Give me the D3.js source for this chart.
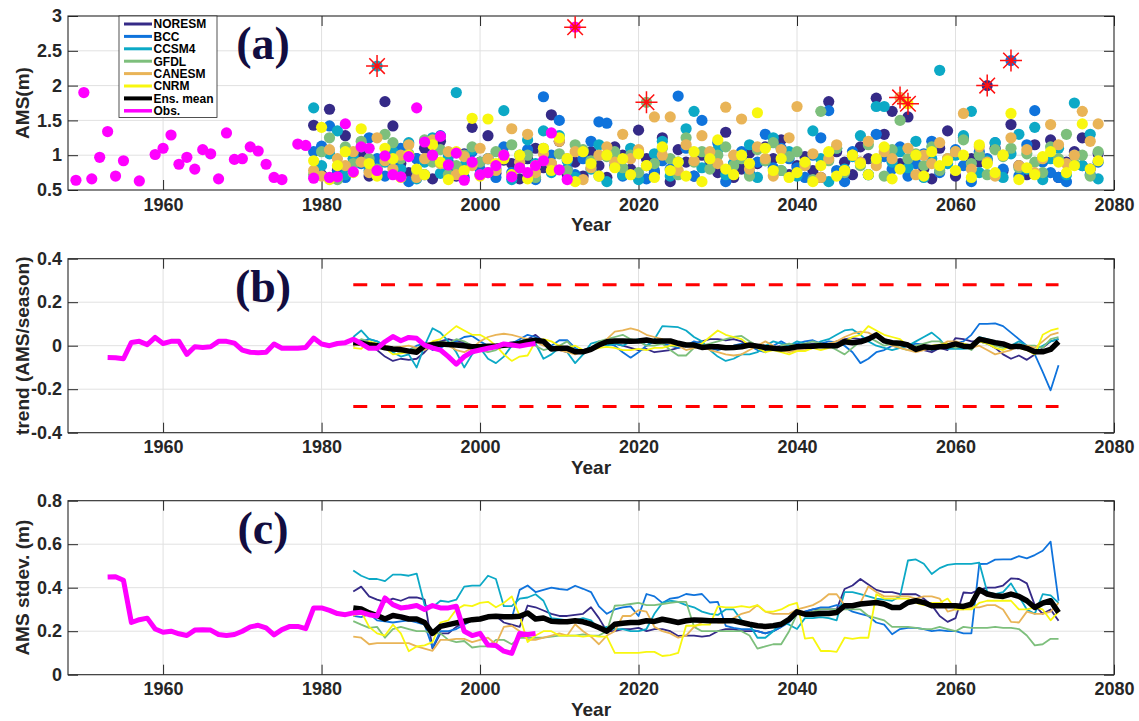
<!DOCTYPE html>
<html>
<head>
<meta charset="utf-8">
<script src="https://cdn.jsdelivr.net/npm/d3@7"></script>
<style>
  body { margin: 0; background: #fff; }
  svg { display: block; }
</style>
</head>
<body>
<script>
// Data

const yearTicks = [1960, 1980, 2000, 2020, 2040, 2060, 2080]
const amsTicks = [0.5, 1, 1.5, 2, 2.5, 3]
const trendTicks = [-0.4, -0.2, 0, 0.2, 0.4]
const stdTicks = [0, 0.2, 0.4, 0.6, 0.8]

const modelYears = d3.range(1979, 2079)   // annual maxima, 1979-2078
const windowYears = d3.range(1984, 2074)  // 11-yr window centres
const obsWindowYears = d3.range(1953, 2008)
const thresholdYears = [1984, 2073]
const thresholdLevel = 0.28

const obsYears = [
  1949, 1950, 1951, 1952, 1953, 1954, 1955, 1957, 1959, 1960, 1961, 1962, 1963, 1964, 1965, 1966,
  1967, 1968, 1969, 1970, 1971, 1972, 1973, 1974, 1975, 1977, 1978, 1979, 1981, 1982, 1983, 1984,
  1985, 1986, 1987, 1988, 1989, 1990, 1991, 1992, 1993, 1994, 1995, 1996, 1997, 1998, 1999, 2000,
  2001, 2002, 2003, 2004, 2005, 2006, 2007, 2008, 2009, 2010, 2011, 2012,
]
const obsAms = [
  0.64, 1.90, 0.66, 0.97, 1.34, 0.70, 0.92, 0.63, 1.01, 1.10, 1.29, 0.87, 0.97, 0.80, 1.08, 1.02,
  0.66, 1.32, 0.94, 0.95, 1.12, 1.06, 0.87, 0.68, 0.65, 1.16, 1.14, 0.67, 0.68, 0.69, 1.45, 0.76,
  1.12, 1.10, 0.78, 0.99, 0.72, 0.69, 0.98, 1.68, 1.19, 1.00, 1.27, 0.86, 1.03, 0.64, 0.90, 0.72,
  0.75, 0.85, 1.00, 0.69, 0.82, 0.75, 0.85, 0.92, 1.32, 0.79, 0.65, 2.84,
]

const noresmAms = [
  1.43, 0.72, 1.66, 0.78, 1.28, 0.95, 1.00, 0.70, 0.80, 1.77,
  1.42, 0.88, 0.75, 0.95, 1.10, 0.66, 1.20, 0.85, 0.70, 1.02,
  1.40, 0.90, 1.28, 0.74, 0.93, 0.88, 0.66, 0.95, 1.10, 0.82,
  1.58, 1.20, 0.72, 0.90, 0.70, 1.05, 0.85, 0.68, 1.12, 1.00,
  0.80, 1.36, 0.95, 0.75, 1.25, 0.62, 1.08, 0.90, 0.70, 1.00,
  0.92, 0.75, 1.33, 0.68, 0.80, 1.03, 0.88, 1.12, 0.95, 1.22,
  0.72, 0.85, 0.98, 0.78, 0.68, 1.77, 1.05, 0.90, 0.72, 1.12,
  0.95, 1.82, 1.30, 1.63, 0.88, 1.55, 1.00, 0.80, 0.66, 1.10,
  1.35, 0.70, 1.25, 0.95, 0.90, 2.00, 1.10, 0.78, 1.44, 0.85,
  0.72, 1.15, 0.95, 1.22, 0.68, 0.90, 1.05, 1.25, 0.80, 1.02,
]
const bccAms = [
  1.05, 1.13, 1.42, 0.75, 0.68, 1.00, 0.88, 1.25, 0.95, 0.70,
  0.85, 1.10, 0.62, 0.95, 0.72, 1.00, 1.28, 0.90, 0.78, 0.68,
  1.05, 0.80, 0.95, 0.68, 1.12, 0.75, 0.90, 1.08, 0.65, 1.84,
  1.00, 1.50, 0.80, 0.72, 0.95, 1.20, 1.48, 1.46, 0.85, 0.70,
  0.98, 1.05, 0.66, 0.78, 0.92, 0.80, 1.85, 1.10, 0.70, 1.50,
  0.95, 1.18, 0.62, 0.88, 1.05, 0.74, 0.90, 1.30, 0.82, 1.10,
  0.95, 0.82, 0.68, 1.00, 1.25, 1.64, 0.78, 0.62, 1.05, 0.90,
  0.72, 1.30, 0.98, 0.80, 1.12, 0.70, 0.88, 1.02, 1.20, 0.75,
  0.92, 1.08, 0.85, 0.62, 1.05, 0.95, 1.18, 0.80, 2.36, 0.70,
  1.15, 1.64, 0.90, 0.75, 0.68, 0.62, 1.00, 0.85, 0.72, 0.90,
]
const ccsm4Ams = [
  1.68, 0.85, 1.02, 1.35, 0.72, 0.95, 1.12, 0.78, 2.28, 0.90,
  1.05, 0.80, 1.18, 0.66, 0.90, 1.25, 0.74, 0.98, 1.90, 0.85,
  1.08, 0.72, 0.95, 0.80, 1.64, 0.65, 1.00, 1.22, 0.88, 1.35,
  0.75, 1.28, 0.92, 0.68, 1.05, 0.80, 1.15, 0.62, 0.98, 0.72,
  1.10, 0.65, 0.85, 1.02, 1.20, 0.70, 0.90, 1.38, 1.63, 0.82,
  0.95, 1.08, 0.72, 0.88, 1.00, 1.15, 0.68, 0.92, 1.25, 0.78,
  1.05, 0.70, 0.85, 1.35, 0.95, 0.62, 1.10, 0.80, 0.98, 1.28,
  0.72, 1.70, 1.70, 0.90, 1.05, 0.82, 1.20, 0.68, 0.95, 2.22,
  0.88, 1.00, 1.28, 1.63, 0.75, 0.92, 1.18, 0.68, 1.02, 1.30,
  0.80, 1.40, 0.65, 0.95, 1.10, 0.72, 1.75, 0.85, 1.30, 0.66,
]
const gfdlAms = [
  0.72, 1.05, 1.25, 0.65, 1.12, 0.88, 1.20, 0.95, 0.80, 1.30,
  1.18, 0.95, 1.02, 0.78, 1.22, 0.90, 1.08, 0.72, 0.85, 1.00,
  1.12, 0.90, 0.75, 1.05, 0.95, 1.15, 0.82, 1.00, 0.68, 1.10,
  0.88, 1.02, 0.78, 1.15, 1.08, 0.92, 0.70, 0.98, 1.05, 0.82,
  1.00, 0.75, 1.76, 0.88, 1.10, 0.95, 0.72, 1.25, 0.90, 1.05,
  0.80, 1.00, 1.12, 0.85, 0.95, 0.70, 1.08, 0.92, 1.18, 0.78,
  0.98, 1.05, 0.88, 0.65, 1.63, 0.92, 1.10, 0.75, 1.00, 0.85,
  1.15, 0.90, 0.70, 1.08, 1.50, 0.95, 1.02, 0.85, 1.12, 0.78,
  0.95, 1.05, 1.22, 0.88, 1.00, 0.72, 1.08, 0.98, 1.10, 0.82,
  1.02, 0.90, 0.75, 1.12, 0.95, 1.30, 0.88, 1.00, 0.70, 1.05,
]
const canesmAms = [
  0.78, 0.70, 1.08, 0.95, 0.85, 1.05, 0.90, 0.75, 1.25, 0.92,
  0.80, 1.00, 1.15, 0.68, 0.95, 1.22, 0.88, 1.05, 0.72, 0.98,
  0.85, 1.10, 0.95, 0.78, 1.00, 1.38, 0.90, 1.30, 0.75, 1.02,
  0.88, 1.20, 0.95, 1.05, 0.65, 0.82, 1.00, 1.12, 0.90, 1.30,
  0.95, 1.08, 0.85, 1.55, 1.00, 1.55, 0.78, 1.15, 0.92, 1.28,
  1.05, 0.88, 1.69, 1.00, 1.52, 0.80, 1.12, 0.95, 0.70, 1.08,
  1.25, 1.70, 0.85, 1.02, 0.68, 0.95, 1.15, 0.78, 1.00, 0.90,
  1.20, 0.85, 1.05, 0.95, 1.83, 1.10, 0.72, 1.00, 0.88, 1.18,
  0.95, 1.05, 1.60, 0.80, 1.12, 0.90, 0.70, 1.00, 1.25, 0.85,
  1.08, 0.75, 0.95, 1.44, 1.15, 0.88, 1.00, 1.63, 1.20, 1.45,
]
const cnrmAms = [
  0.92, 1.40, 0.65, 0.85, 1.05, 0.75, 1.38, 0.88, 0.70, 1.10,
  0.95, 0.68, 1.00, 0.80, 0.72, 1.15, 0.90, 0.65, 1.05, 0.78,
  1.53, 0.70, 1.52, 0.88, 0.95, 0.72, 1.00, 0.66, 0.85, 1.10,
  0.78, 1.25, 0.95, 0.62, 1.05, 0.88, 0.70, 1.00, 0.82, 0.95,
  0.72, 1.02, 0.85, 0.68, 1.12, 0.78, 0.90, 0.70, 1.05, 0.62,
  0.95, 1.22, 0.80, 0.72, 1.00, 0.88, 1.61, 1.10, 0.78, 0.95,
  0.68, 0.75, 0.90, 0.62, 0.85, 1.05, 0.70, 0.78, 1.00, 0.88,
  0.72, 0.95, 1.12, 0.66, 0.80, 1.74, 1.00, 0.70, 1.05, 0.85,
  0.92, 0.78, 1.00, 0.68, 1.15, 0.88, 0.75, 1.00, 1.60, 0.65,
  0.82, 0.72, 0.98, 1.05, 0.90, 0.75, 0.85, 1.45, 0.80, 0.92,
]

const noresmTrend = [
  0.0, 0.01, 0.0, -0.02, -0.05, -0.07, -0.06, -0.065, -0.06, -0.03,
  0.01, 0.02, 0.03, 0.02, 0.015, 0.0, -0.01, -0.005, 0.0, 0.01,
  0.015, 0.02, 0.03, 0.05, 0.02, -0.01, -0.02, -0.03, -0.025, -0.02,
  -0.01, 0.01, 0.02, 0.01, 0.0, -0.01, -0.02, -0.015, -0.03, -0.025,
  -0.02, -0.01, 0.0, 0.01, 0.02, 0.03, 0.03, 0.025, 0.03, 0.02,
  0.0, -0.01, -0.02, -0.01, 0.0, -0.005, 0.005, 0.0, 0.01, 0.01,
  0.005, 0.02, 0.03, 0.035, 0.03, 0.04, 0.045, 0.03, 0.02, 0.01,
  0.0, -0.01, -0.02, -0.03, -0.01, -0.02, 0.035, 0.03, 0.02, 0.02,
  0.01, -0.01, -0.04, -0.06, -0.045, -0.065, -0.04, -0.01, 0.02, 0.03,
]
const bccTrend = [
  0.005, 0.02, 0.03, 0.02, 0.0, -0.02, -0.03, -0.02, 0.0, 0.01,
  -0.02, -0.01, 0.01, 0.02, 0.04, 0.045, 0.02, 0.0, -0.01, 0.0,
  0.01, 0.03, 0.05, 0.04, 0.02, 0.0, 0.025, 0.025, -0.01, -0.03,
  -0.02, 0.0, 0.01, 0.0, -0.03, -0.055, -0.03, 0.0, 0.02, 0.01,
  0.0, -0.01, 0.0, 0.02, 0.01, -0.01, -0.02, -0.01, 0.0, 0.01,
  0.0, -0.02, -0.03, 0.0, 0.02, 0.0, 0.01, 0.02, 0.025, 0.01,
  0.02, 0.015, 0.0, -0.03, -0.08, -0.06, -0.03, -0.02, 0.0, -0.01,
  0.0, 0.01, 0.005, -0.02, -0.01, 0.0, 0.01, 0.02, 0.05, 0.1,
  0.1, 0.103, 0.09, 0.06, 0.03, 0.0, -0.04, -0.12, -0.205, -0.09,
]
const ccsm4Trend = [
  0.04, 0.07, 0.03, 0.02, 0.0, -0.03, -0.05, -0.04, -0.1, 0.0,
  0.08, 0.06, 0.02, -0.03, -0.1, -0.04, -0.01, -0.06, -0.08, -0.05,
  0.0, 0.02, 0.03, 0.01, -0.06, -0.04, -0.01, -0.03, -0.08, -0.04,
  0.01, 0.02, 0.0, 0.01, 0.0, 0.02, 0.03, 0.0, 0.03, 0.09,
  0.088, 0.085, 0.07, 0.04, 0.02, -0.02, -0.05, -0.07, -0.06, -0.04,
  -0.04, -0.03, 0.0, 0.02, 0.01, 0.0, 0.02, 0.01, 0.0, 0.02,
  0.03, 0.05, 0.07, 0.075, 0.05, 0.02, 0.0, -0.01, -0.02, -0.01,
  0.0, 0.02, 0.04, 0.06, 0.03, -0.015, -0.015, -0.015, -0.01, 0.04,
  0.03, 0.02, 0.01, 0.0, 0.02, 0.0, -0.02, 0.0, 0.02, 0.03,
]
const gfdlTrend = [
  0.01, 0.03, 0.02, 0.0, -0.01, -0.02, -0.03, -0.02, -0.01, 0.0,
  0.01, 0.02, 0.01, 0.03, 0.02, 0.0, -0.02, -0.03, -0.02, 0.0,
  0.01, 0.02, 0.015, 0.0, -0.02, -0.01, 0.0, 0.02, -0.02, -0.03,
  -0.01, 0.02, 0.03, 0.04, 0.05, 0.03, 0.02, 0.0, 0.0, 0.01,
  -0.02, -0.045, -0.045, -0.01, 0.0, 0.01, 0.02, 0.03, 0.04, 0.045,
  0.02, 0.0, -0.01, -0.02, 0.0, 0.01, 0.0, 0.01, 0.02, 0.01,
  0.0, -0.02, -0.04, -0.01, 0.02, 0.04, 0.02, 0.0, 0.01, -0.01,
  -0.02, 0.0, 0.01, 0.02, 0.02, 0.0, -0.01, 0.0, -0.02, 0.02,
  0.01, 0.0, -0.01, 0.0, -0.01, 0.0, 0.0, -0.01, 0.03, 0.04,
]
const canesmTrend = [
  0.0, 0.005, 0.01, 0.0, 0.0, -0.01, -0.005, 0.0, -0.01, -0.02,
  0.0, 0.01, 0.0, -0.02, -0.03, -0.01, 0.02, 0.04, 0.05, 0.055,
  0.05, 0.04, 0.03, 0.02, 0.0, -0.01, -0.02, -0.03, -0.04, -0.025,
  -0.02, 0.0, 0.03, 0.065, 0.07, 0.08, 0.07, 0.05, 0.04, 0.03,
  0.01, 0.0, -0.02, -0.01, 0.0, -0.02, -0.03, -0.04, -0.045, -0.04,
  -0.02, 0.0, 0.02, 0.0, -0.02, -0.03, -0.02, -0.02, -0.01, 0.0,
  0.01, 0.02, 0.04, 0.055, 0.065, 0.06, 0.04, 0.02, 0.0, -0.01,
  -0.02, -0.03, -0.02, -0.01, 0.0, 0.02, 0.02, 0.01, -0.01, 0.0,
  -0.02, -0.04, -0.03, -0.02, 0.0, 0.0, -0.01, 0.02, 0.05, 0.06,
]
const cnrmTrend = [
  -0.01, -0.015, 0.02, 0.01, -0.01, -0.04, -0.035, -0.03, -0.02, -0.01,
  0.02, 0.03, 0.06, 0.09, 0.07, 0.05, 0.05, 0.03, 0.0, -0.04,
  -0.07, -0.05, -0.045, 0.02, 0.03, 0.02, 0.0, -0.01, 0.0, -0.02,
  -0.02, -0.01, -0.005, -0.01, -0.02, -0.02, -0.015, -0.02, -0.01, -0.01,
  0.0, 0.0, 0.01, 0.0, 0.01, 0.04, 0.07, 0.05, 0.04, 0.03,
  0.0, -0.01, -0.03, -0.02, -0.03, -0.04, -0.025, -0.025, -0.01, -0.02,
  -0.01, 0.0, 0.02, 0.04, 0.05, 0.09, 0.07, 0.05, 0.04, 0.03,
  0.0, -0.02, -0.01, 0.0, 0.005, 0.01, 0.0, 0.01, 0.0, 0.02,
  0.01, -0.01, -0.02, 0.0, -0.01, -0.02, -0.04, 0.05, 0.07, 0.08,
]
const ensTrend = [
  0.015, 0.012, 0.005, 0.0, -0.01, -0.015, -0.018, -0.025, -0.03, 0.0,
  0.005, 0.008, 0.005, 0.003, 0.0, -0.005, -0.005, -0.003, -0.002, 0.002,
  0.005, 0.01, 0.02, 0.025, 0.02, -0.015, -0.012, -0.012, -0.028, -0.028,
  -0.017, 0.003, 0.018, 0.022, 0.022, 0.021, 0.022, 0.026, 0.02, 0.022,
  0.022, 0.011, 0.003, 0.003, -0.008, -0.005, -0.005, -0.009, -0.008, -0.005,
  0.003, -0.002, -0.008, -0.012, -0.015, -0.012, -0.005, -0.002, -0.002, 0.001,
  0.0, 0.0, 0.018, 0.014, 0.018, 0.03, 0.05, 0.022, 0.014, 0.011,
  0.003, -0.017, -0.005, -0.009, -0.005, -0.002, 0.008, -0.002, -0.005, 0.03,
  0.022, 0.014, 0.008, -0.005, -0.002, -0.012, -0.028, -0.028, -0.017, 0.018,
]
const obsTrend = [
  -0.054, -0.055, -0.06, 0.015, 0.02, 0.005, 0.038, 0.01, 0.02, 0.02,
  -0.04, -0.005, -0.008, -0.005, 0.02, 0.02, 0.012, -0.02, -0.03, -0.032,
  -0.03, 0.008, -0.012, -0.012, -0.012, -0.008, 0.035, 0.008, 0.0, 0.01,
  0.014, 0.03, 0.01, -0.012, -0.012, 0.018, 0.042, 0.023, 0.038, 0.034,
  0.003, -0.01, -0.02, -0.05, -0.085, -0.05, -0.028, -0.02, -0.012, -0.005,
  0.008, 0.003, -0.002, 0.005, 0.01,
]

const noresmStd = [
  0.383, 0.405, 0.36, 0.345, 0.335, 0.35, 0.34, 0.355, 0.355, 0.345,
  0.12, 0.19, 0.19, 0.22, 0.24, 0.25, 0.25, 0.26, 0.27, 0.24,
  0.23, 0.22, 0.318, 0.31, 0.295, 0.28, 0.27, 0.27, 0.275, 0.28,
  0.31, 0.26, 0.2, 0.2, 0.21, 0.21, 0.215, 0.2, 0.21, 0.21,
  0.2, 0.178, 0.18, 0.18, 0.175, 0.18, 0.2, 0.21, 0.21, 0.2,
  0.2, 0.2, 0.19, 0.2, 0.22, 0.25, 0.28, 0.29, 0.3, 0.3,
  0.3, 0.3, 0.394, 0.41, 0.44, 0.415, 0.39, 0.38, 0.38, 0.37,
  0.37, 0.37, 0.35, 0.32, 0.27, 0.243, 0.26, 0.378, 0.375, 0.39,
  0.4, 0.4, 0.41, 0.443, 0.44, 0.42, 0.32, 0.28, 0.3, 0.248,
]
const bccStd = [
  0.27, 0.265, 0.28, 0.25, 0.245, 0.24, 0.245, 0.25, 0.24, 0.23,
  0.125, 0.2, 0.2, 0.21, 0.23, 0.25, 0.26, 0.27, 0.275, 0.27,
  0.26, 0.39, 0.41, 0.38, 0.39, 0.4, 0.394, 0.39, 0.409, 0.395,
  0.38, 0.314, 0.28, 0.3, 0.31, 0.314, 0.27, 0.371, 0.36, 0.33,
  0.35, 0.355, 0.371, 0.366, 0.371, 0.332, 0.335, 0.225, 0.215, 0.21,
  0.21, 0.2, 0.19, 0.2, 0.22, 0.24, 0.28, 0.29, 0.3, 0.31,
  0.31, 0.32, 0.31, 0.29, 0.28, 0.27, 0.24, 0.23, 0.186, 0.21,
  0.215, 0.215, 0.21, 0.2, 0.205, 0.2, 0.2, 0.19, 0.19, 0.509,
  0.51, 0.529, 0.53, 0.53, 0.545, 0.535, 0.55, 0.57, 0.612, 0.34,
]
const ccsm4Std = [
  0.479, 0.455, 0.44, 0.44, 0.43, 0.46, 0.46, 0.455, 0.465, 0.32,
  0.31, 0.34, 0.335, 0.345, 0.405, 0.41, 0.41, 0.455, 0.44, 0.315,
  0.315, 0.35, 0.355, 0.37, 0.34, 0.26, 0.255, 0.25, 0.25, 0.26,
  0.25, 0.21, 0.22, 0.21, 0.21, 0.2, 0.2, 0.21, 0.28, 0.33,
  0.34, 0.335, 0.32, 0.31, 0.29, 0.28, 0.275, 0.3, 0.3, 0.25,
  0.23, 0.17, 0.17, 0.2, 0.24, 0.23, 0.21, 0.26, 0.26, 0.265,
  0.26, 0.25, 0.38, 0.38, 0.37, 0.36, 0.35, 0.345, 0.34, 0.36,
  0.525, 0.53, 0.51, 0.463, 0.49, 0.505, 0.51, 0.51, 0.51, 0.515,
  0.38, 0.37, 0.38, 0.42, 0.36, 0.3, 0.28, 0.37, 0.365, 0.33,
]
const gfdlStd = [
  0.246, 0.23, 0.215, 0.22, 0.17, 0.21, 0.22, 0.21, 0.2, 0.2,
  0.19, 0.19, 0.16, 0.15, 0.155, 0.125, 0.13, 0.13, 0.16, 0.16,
  0.14, 0.17, 0.17, 0.17, 0.17, 0.175, 0.18, 0.18, 0.18, 0.185,
  0.18, 0.18, 0.2, 0.317, 0.32, 0.325, 0.33, 0.32, 0.32, 0.325,
  0.33, 0.335, 0.335, 0.22, 0.2, 0.2, 0.2, 0.2, 0.2, 0.2,
  0.18, 0.12, 0.13, 0.14, 0.14, 0.2, 0.28, 0.28, 0.29, 0.3,
  0.3, 0.3, 0.3, 0.3, 0.3, 0.27, 0.26, 0.25, 0.22, 0.22,
  0.22, 0.215, 0.21, 0.21, 0.22, 0.21, 0.2, 0.22, 0.215, 0.215,
  0.215, 0.22, 0.215, 0.215, 0.21, 0.18, 0.135, 0.14, 0.165, 0.165,
]
const canesmStd = [
  0.175, 0.17, 0.14, 0.145, 0.145, 0.145, 0.145, 0.145, 0.13, 0.12,
  0.11, 0.16, 0.16, 0.165, 0.165, 0.15, 0.16, 0.17, 0.14, 0.22,
  0.225, 0.2, 0.16, 0.16, 0.17, 0.18, 0.19, 0.18, 0.232, 0.2,
  0.175, 0.14, 0.18, 0.2, 0.27, 0.27, 0.297, 0.29, 0.22, 0.2,
  0.19, 0.17, 0.18, 0.22, 0.24, 0.25, 0.24, 0.24, 0.26, 0.28,
  0.29, 0.32, 0.29, 0.28, 0.28, 0.28, 0.3, 0.31, 0.32, 0.34,
  0.37, 0.37, 0.32, 0.31, 0.33, 0.406, 0.38, 0.36, 0.36, 0.36,
  0.36, 0.35, 0.36, 0.36, 0.35, 0.29, 0.3, 0.3, 0.31, 0.31,
  0.32, 0.32, 0.3, 0.243, 0.24, 0.29, 0.28, 0.28, 0.29, 0.33,
]
const cnrmStd = [
  0.27, 0.29, 0.22, 0.19, 0.18, 0.23, 0.19, 0.108, 0.13, 0.135,
  0.15, 0.24, 0.25, 0.3, 0.32, 0.315, 0.33, 0.335, 0.31, 0.33,
  0.36, 0.27, 0.15, 0.18, 0.2, 0.2, 0.18, 0.18, 0.18, 0.175,
  0.18, 0.175, 0.175, 0.1, 0.1, 0.1, 0.1, 0.105, 0.105, 0.086,
  0.09, 0.1, 0.225, 0.225, 0.23, 0.23, 0.314, 0.31, 0.31, 0.315,
  0.31, 0.32, 0.29, 0.29, 0.3, 0.32, 0.33, 0.166, 0.17, 0.109,
  0.11, 0.105, 0.17, 0.165, 0.17, 0.17, 0.37, 0.35, 0.35, 0.35,
  0.35, 0.33, 0.32, 0.33, 0.33, 0.35, 0.3, 0.3, 0.3, 0.33,
  0.34, 0.34, 0.34, 0.34, 0.3, 0.3, 0.31, 0.3, 0.25, 0.29,
]
const ensStd = [
  0.307, 0.302, 0.284, 0.272, 0.256, 0.272, 0.266, 0.256, 0.256, 0.24,
  0.19, 0.222, 0.23, 0.238, 0.246, 0.253, 0.256, 0.266, 0.269, 0.266,
  0.266, 0.269, 0.284, 0.256, 0.261, 0.246, 0.243, 0.243, 0.248, 0.243,
  0.232, 0.217, 0.2, 0.232, 0.237, 0.24, 0.24, 0.248, 0.245, 0.255,
  0.248, 0.24, 0.248, 0.252, 0.25, 0.248, 0.248, 0.248, 0.248, 0.24,
  0.232, 0.225, 0.222, 0.225, 0.232, 0.255, 0.289, 0.278, 0.278, 0.281,
  0.281, 0.286, 0.317, 0.317, 0.325, 0.329, 0.332, 0.325, 0.309, 0.309,
  0.332, 0.34, 0.332, 0.317, 0.317, 0.317, 0.317, 0.314, 0.325, 0.391,
  0.371, 0.363, 0.36, 0.371, 0.36, 0.34, 0.309, 0.329, 0.34, 0.286,
]
const obsStd = [
  0.449, 0.45, 0.434, 0.24, 0.253, 0.26, 0.21, 0.195, 0.2, 0.188,
  0.18, 0.205, 0.207, 0.205, 0.185, 0.18, 0.185, 0.2, 0.22, 0.227,
  0.215, 0.183, 0.207, 0.222, 0.222, 0.212, 0.307, 0.307, 0.296, 0.281,
  0.276, 0.284, 0.287, 0.276, 0.27, 0.353, 0.322, 0.307, 0.311, 0.318,
  0.3, 0.318, 0.307, 0.307, 0.315, 0.2, 0.18, 0.19, 0.136, 0.134,
  0.108, 0.098, 0.19, 0.185, 0.19,
]

const models = [
  { name: 'NORESM', color: '#352a87', ams: noresmAms, trend: noresmTrend, std: noresmStd },
  { name: 'BCC', color: '#0f73dc', ams: bccAms, trend: bccTrend, std: bccStd },
  { name: 'CCSM4', color: '#0ca9c6', ams: ccsm4Ams, trend: ccsm4Trend, std: ccsm4Std },
  { name: 'GFDL', color: '#7dbf7c', ams: gfdlAms, trend: gfdlTrend, std: gfdlStd },
  { name: 'CANESM', color: '#e9b457', ams: canesmAms, trend: canesmTrend, std: canesmStd },
  { name: 'CNRM', color: '#f8f70f', ams: cnrmAms, trend: cnrmTrend, std: cnrmStd },
]

// Styles

const INK = '#262626'
const GRID = '#e1e1e1'
const FONT = '"Liberation Sans", Arial, Helvetica, sans-serif'
const ENS_COLOR = '#000000'
const OBS_COLOR = '#ff00ff'
const LEFT = 68
const RIGHT = 1114

const svg = d3.select('body').append('svg').attr('width', 1139).attr('height', 721)
const x = d3.scaleLinear().domain([1948, 2080]).range([LEFT, RIGHT])

function addAxis(g, axis, transform, withLabels) {
  const a = g.append('g').attr('transform', transform)
    .call(axis.tickSizeInner(-10).tickSizeOuter(0))
  a.select('.domain').remove()
  a.selectAll('line').attr('stroke', INK)
  if (!withLabels) {
    a.selectAll('text').remove()
    return
  }
  a.selectAll('text')
    .attr('fill', INK)
    .style('font-family', FONT)
    .style('font-size', '18px')
    .style('font-weight', 'bold')
}

function panel({ key, top, domain, ticks, yLabel, tag }) {
  const height = 174
  const bottom = top + height
  const y = d3.scaleLinear().domain(domain).range([bottom, top])
  const g = svg.append('g')

  // Grid

  g.append('g').selectAll('line').data(yearTicks.slice(0, -1)).join('line')
    .attr('x1', x).attr('x2', x).attr('y1', top).attr('y2', bottom)
    .attr('stroke', GRID)
  g.append('g').selectAll('line').data(ticks.slice(1, -1)).join('line')
    .attr('x1', LEFT).attr('x2', RIGHT).attr('y1', y).attr('y2', y)
    .attr('stroke', GRID)

  // Axis & ticks

  const fmtY = (d) => String(d)
  addAxis(g, d3.axisBottom(x).tickValues(yearTicks).tickFormat(d3.format('d')).tickPadding(8), `translate(0,${bottom})`, true)
  addAxis(g, d3.axisTop(x).tickValues(yearTicks), `translate(0,${top})`, false)
  addAxis(g, d3.axisLeft(y).tickValues(ticks).tickFormat(fmtY).tickPadding(6), `translate(${LEFT},0)`, true)
  addAxis(g, d3.axisRight(y).tickValues(ticks), `translate(${RIGHT},0)`, false)

  g.append('rect')
    .attr('x', LEFT).attr('y', top).attr('width', RIGHT - LEFT).attr('height', height)
    .attr('fill', 'none').attr('stroke', INK).attr('stroke-width', 1.1)

  g.append('text')
    .attr('x', (LEFT + RIGHT) / 2).attr('y', bottom + 41)
    .attr('text-anchor', 'middle')
    .attr('fill', INK)
    .style('font-family', FONT).style('font-size', '19px').style('font-weight', 'bold')
    .text('Year')

  g.append('text')
    .attr('transform', `translate(29,${(top + bottom) / 2}) rotate(-90)`)
    .attr('text-anchor', 'middle')
    .attr('fill', INK)
    .style('font-family', FONT).style('font-size', '19px').style('font-weight', 'bold')
    .text(yLabel)

  // Data layer

  g.append('clipPath').attr('id', `clip-${key}`)
    .append('rect').attr('x', LEFT).attr('y', top).attr('width', RIGHT - LEFT).attr('height', height)
  const plot = g.append('g').attr('clip-path', `url(#clip-${key})`)

  const label = g.append('text')
    .attr('x', 263).attr('y', top + 43)
    .attr('text-anchor', 'middle')
    .attr('fill', '#120d40')
    .style('font-family', '"Liberation Serif", "Times New Roman", serif')
    .style('font-size', '46px').style('font-weight', 'bold')
    .text(tag)

  return { g, plot, y, label }
}

function drawLine(plot, y, years, values, color, width) {
  const line = d3.line().x((d, i) => x(years[i])).y((d) => y(d))
  plot.append('path')
    .datum(values)
    .attr('d', line)
    .attr('fill', 'none')
    .attr('stroke', color)
    .attr('stroke-width', width)
    .attr('stroke-linejoin', 'round')
}

function drawStar(plot, cx, cy) {
  const r = 11
  const d = r * Math.SQRT1_2
  plot.append('path')
    .attr('d', `M${cx - r},${cy}H${cx + r}M${cx},${cy - r}V${cy + r}` +
      `M${cx - d},${cy - d}L${cx + d},${cy + d}M${cx - d},${cy + d}L${cx + d},${cy - d}`)
    .attr('stroke', '#ff1010')
    .attr('stroke-width', 1.5)
    .attr('fill', 'none')
  plot.append('circle').attr('cx', cx).attr('cy', cy).attr('r', 2).attr('fill', '#ff1010')
}

// (a) annual maxima

const pa = panel({ key: 'a', top: 16, domain: [0.5, 3], ticks: amsTicks, yLabel: 'AMS(m)', tag: '(a)' })

const dotSeries = models.map((m) => ({ color: m.color, years: modelYears, values: m.ams }))
dotSeries.push({ color: OBS_COLOR, years: obsYears, values: obsAms })

dotSeries.forEach((s) => {
  pa.plot.append('g').selectAll('circle').data(s.values).join('circle')
    .attr('cx', (d, i) => x(s.years[i]))
    .attr('cy', (d) => pa.y(d))
    .attr('r', 5.6)
    .attr('fill', s.color)
})

// each series' maximum is starred
dotSeries.forEach((s) => {
  const i = d3.maxIndex(s.values)
  drawStar(pa.plot, x(s.years[i]), pa.y(s.values[i]))
})

// Legend

const legend = pa.g.append('g')
legend.append('rect')
  .attr('x', 119).attr('y', 16).attr('width', 98).attr('height', 101.5)
  .attr('fill', '#fff').attr('stroke', INK).attr('stroke-width', 0.8)

const legendItems = models.map((m) => ({ name: m.name, color: m.color, width: 3 }))
legendItems.push({ name: 'Ens. mean', color: ENS_COLOR, width: 4 })
legendItems.push({ name: 'Obs.', color: OBS_COLOR, width: 3.5 })

legendItems.forEach((item, i) => {
  const ly = 24 + i * 12.4
  legend.append('line')
    .attr('x1', 124).attr('x2', 152).attr('y1', ly).attr('y2', ly)
    .attr('stroke', item.color).attr('stroke-width', item.width)
  legend.append('text')
    .attr('x', 153.5).attr('y', ly + 4.4)
    .attr('fill', '#000')
    .style('font-family', FONT).style('font-size', '12px').style('font-weight', 'bold')
    .text(item.name)
})
pa.label.raise()

// (b) running trend

const pb = panel({ key: 'b', top: 258.7, domain: [-0.4, 0.4], ticks: trendTicks, yLabel: 'trend (AMS/season)', tag: '(b)' })

;[thresholdLevel, -thresholdLevel].forEach((level) => {
  drawLine(pb.plot, pb.y, thresholdYears, thresholdYears.map(() => level), '#ff0000', 3)
  pb.plot.select('path:last-child').attr('stroke-dasharray', '14,13.7').attr('stroke-linejoin', null)
})
models.forEach((m) => drawLine(pb.plot, pb.y, windowYears, m.trend, m.color, 1.8))
drawLine(pb.plot, pb.y, windowYears, ensTrend, ENS_COLOR, 5.5)
drawLine(pb.plot, pb.y, obsWindowYears, obsTrend, OBS_COLOR, 5)

// (c) running standard deviation

const pc = panel({ key: 'c', top: 500.7, domain: [0, 0.8], ticks: stdTicks, yLabel: 'AMS stdev. (m)', tag: '(c)' })

models.forEach((m) => drawLine(pc.plot, pc.y, windowYears, m.std, m.color, 1.8))
drawLine(pc.plot, pc.y, windowYears, ensStd, ENS_COLOR, 5.5)
drawLine(pc.plot, pc.y, obsWindowYears, obsStd, OBS_COLOR, 5)
</script>
</body>
